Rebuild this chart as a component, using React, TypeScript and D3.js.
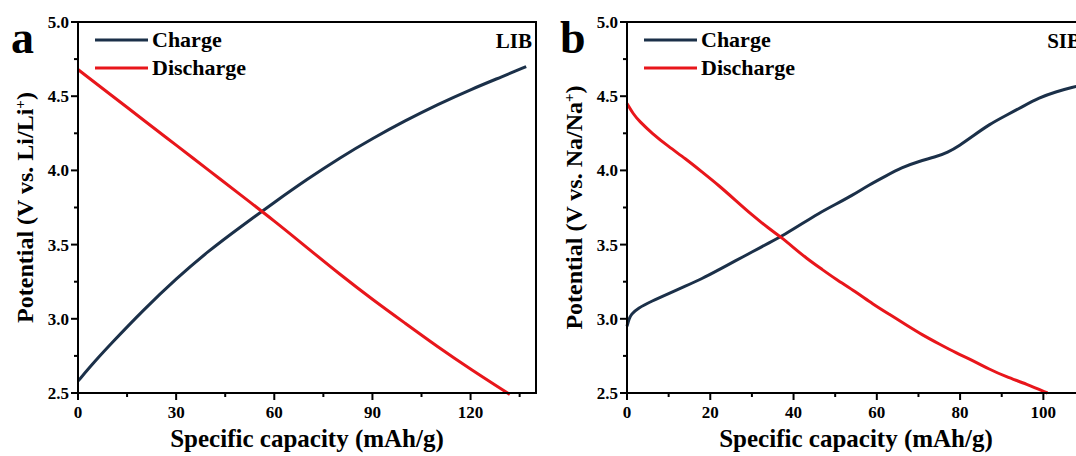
import React, { useEffect, useRef } from "react"
import * as d3 from "d3"

// LIB (panel a)
const libChargeCap = [0, 5, 10, 20, 30, 40, 50, 60, 70, 80, 90, 100, 110, 120, 130, 137]
const libChargeV = [2.58, 2.71, 2.83, 3.06, 3.27, 3.46, 3.625, 3.785, 3.94, 4.085, 4.215, 4.335, 4.445, 4.545, 4.635, 4.70]
const libDischargeCap = [0, 10, 20, 30, 40, 50, 60, 70, 80, 90, 100, 110, 120, 132]
const libDischargeV = [4.68, 4.51, 4.34, 4.17, 4.0, 3.83, 3.66, 3.48, 3.30, 3.13, 2.97, 2.81, 2.66, 2.49]

// SIB (panel b)
const sibChargeCap = [0, 0.5, 1, 2.5, 6, 10, 14, 18, 22, 26, 30, 34, 38, 42, 46, 50, 54, 58, 62, 66, 70, 74, 77, 80, 83, 87, 91, 95, 99, 103, 107, 110]
const sibChargeV = [2.95, 3.0, 3.03, 3.07, 3.12, 3.17, 3.22, 3.27, 3.33, 3.39, 3.45, 3.51, 3.57, 3.64, 3.71, 3.77, 3.83, 3.9, 3.96, 4.02, 4.06, 4.09, 4.12, 4.17, 4.23, 4.31, 4.37, 4.43, 4.49, 4.53, 4.56, 4.58]
const sibDischargeCap = [0, 1.5, 3, 6, 10, 14, 18, 22, 26, 30, 34, 37, 40, 43, 47, 50, 55, 59, 63, 67, 71, 75, 79, 83, 87, 91, 96, 101]
const sibDischargeV = [4.45, 4.38, 4.33, 4.25, 4.16, 4.08, 3.99, 3.9, 3.8, 3.7, 3.61, 3.55, 3.48, 3.41, 3.33, 3.27, 3.18, 3.1, 3.03, 2.96, 2.89, 2.83, 2.77, 2.72, 2.66, 2.61, 2.56, 2.5]

const yTicks = [2.5, 3.0, 3.5, 4.0, 4.5, 5.0]
const yMinorTicks = [2.75, 3.25, 3.75, 4.25, 4.75]
const libXTicks = [0, 30, 60, 90, 120]
const sibXTicks = [0, 20, 40, 60, 80, 100]
const seriesNames = ["Charge", "Discharge"]

const CHARGE = "#1b3049"
const DISCHARGE = "#e8161b"
const FONT = "'Liberation Serif', 'Times New Roman', serif"

const zip = (xs: number[], ys: number[]) => xs.map((x, i) => [x, ys[i]] as [number, number])

const panels = [
  {
    letter: "a", tag: "LIB", left: 78, xMax: 140, xTicks: libXTicks, minorStep: 15,
    ion: "Li",
    charge: zip(libChargeCap, libChargeV), discharge: zip(libDischargeCap, libDischargeV),
  },
  {
    letter: "b", tag: "SIB", left: 627, xMax: 110, xTicks: sibXTicks, minorStep: 10,
    ion: "Na",
    charge: zip(sibChargeCap, sibChargeV), discharge: zip(sibDischargeCap, sibDischargeV),
  },
]

export default function App() {
  const ref = useRef<SVGSVGElement>(null)

  useEffect(() => {
    const svg = d3.select(ref.current)
    svg.selectAll("*").remove()
    const top = 22, bottom = 393, plotW = 458

    panels.forEach(p => {
      const x = d3.scaleLinear().domain([0, p.xMax]).range([p.left, p.left + plotW])
      const y = d3.scaleLinear().domain([2.5, 5.0]).range([bottom, top])
      const g = svg.append("g")

      // minor ticks
      const xMinor = d3.range(p.minorStep, p.xMax, p.minorStep * 2)
      g.selectAll(".xminor").data(xMinor).enter().append("line")
        .attr("x1", d => x(d)).attr("x2", d => x(d))
        .attr("y1", bottom).attr("y2", bottom + 4)
        .attr("stroke", "#000").attr("stroke-width", 2)
      g.selectAll(".yminor").data(yMinorTicks).enter().append("line")
        .attr("x1", p.left).attr("x2", p.left - 4)
        .attr("y1", d => y(d)).attr("y2", d => y(d))
        .attr("stroke", "#000").attr("stroke-width", 2)

      // major ticks + labels
      g.selectAll(".xmajor").data(p.xTicks).enter().append("line")
        .attr("x1", d => x(d)).attr("x2", d => x(d))
        .attr("y1", bottom).attr("y2", bottom + 7)
        .attr("stroke", "#000").attr("stroke-width", 2)
      g.selectAll(".xlab").data(p.xTicks).enter().append("text")
        .attr("x", d => x(d)).attr("y", bottom + 25)
        .attr("text-anchor", "middle")
        .attr("font-family", FONT).attr("font-weight", "bold").attr("font-size", 17)
        .text(d => d)
      g.selectAll(".ymajor").data(yTicks).enter().append("line")
        .attr("x1", p.left).attr("x2", p.left - 7)
        .attr("y1", d => y(d)).attr("y2", d => y(d))
        .attr("stroke", "#000").attr("stroke-width", 2)
      g.selectAll(".ylab").data(yTicks).enter().append("text")
        .attr("x", p.left - 9).attr("y", d => y(d) + 6)
        .attr("text-anchor", "end")
        .attr("font-family", FONT).attr("font-weight", "bold").attr("font-size", 17)
        .text(d => d.toFixed(1))

      // curves
      const line = d3.line<[number, number]>()
        .x(d => x(d[0])).y(d => y(d[1]))
        .curve(d3.curveBasis)
      g.append("path").datum(p.charge).attr("d", line)
        .attr("fill", "none").attr("stroke", CHARGE).attr("stroke-width", 3)
      g.append("path").datum(p.discharge).attr("d", line)
        .attr("fill", "none").attr("stroke", DISCHARGE).attr("stroke-width", 3)

      // frame
      g.append("rect")
        .attr("x", p.left).attr("y", top)
        .attr("width", plotW).attr("height", bottom - top)
        .attr("fill", "none").attr("stroke", "#000").attr("stroke-width", 2)

      // legend
      const colors = [CHARGE, DISCHARGE]
      seriesNames.forEach((name, i) => {
        const ly = 40 + i * 28
        g.append("line")
          .attr("x1", p.left + 17).attr("x2", p.left + 70)
          .attr("y1", ly).attr("y2", ly)
          .attr("stroke", colors[i]).attr("stroke-width", 3)
        g.append("text")
          .attr("x", p.left + 74).attr("y", ly + 7)
          .attr("font-family", FONT).attr("font-weight", "bold").attr("font-size", 22)
          .text(name)
      })

      g.append("text")
        .attr("x", p.left + plotW - 4).attr("y", 48)
        .attr("text-anchor", "end")
        .attr("font-family", FONT).attr("font-weight", "bold").attr("font-size", 21)
        .text(p.tag)

      g.append("text")
        .attr("x", p.left - 67).attr("y", 53)
        .attr("font-family", FONT).attr("font-weight", "bold").attr("font-size", 46)
        .text(p.letter)

      // axis titles
      g.append("text")
        .attr("x", p.left + plotW / 2).attr("y", 447)
        .attr("text-anchor", "middle")
        .attr("font-family", FONT).attr("font-weight", "bold").attr("font-size", 25)
        .text("Specific capacity (mAh/g)")

      const yt = g.append("text")
        .attr("transform", `translate(${p.left - 45},${(top + bottom) / 2}) rotate(-90)`)
        .attr("text-anchor", "middle")
        .attr("font-family", FONT).attr("font-weight", "bold").attr("font-size", 24)
      yt.append("tspan").text(`Potential (V vs. ${p.ion}/${p.ion}`)
      yt.append("tspan").attr("baseline-shift", "super").attr("font-size", 15).text("+")
      yt.append("tspan").text(")")
    })
  }, [])

  return (
    <svg ref={ref} width={1076} height={456}
      style={{ position: "absolute", left: 0, top: 0, background: "#fff" }} />
  )
}
